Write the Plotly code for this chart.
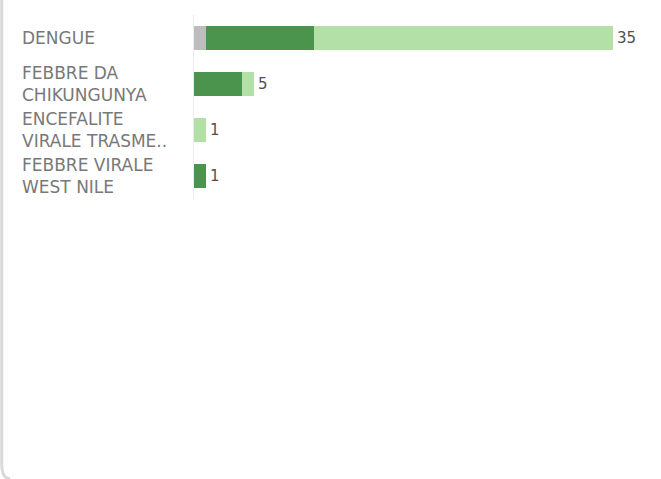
import plotly.graph_objects as go

categories = ["DENGUE", "FEBBRE DA CHIKUNGUNYA", "ENCEFALITE VIRALE TRASMESSA DA ZECCHE", "FEBBRE VIRALE WEST NILE"]
category_labels = ["DENGUE", "FEBBRE DA<br>CHIKUNGUNYA", "ENCEFALITE<br>VIRALE TRASME..", "FEBBRE VIRALE<br>WEST NILE"]
series_names = ["Non noto", "Importati", "Autoctoni"]
values_unknown = [1, 0, 0, 0]
values_dark = [9, 4, 0, 1]
values_light = [25, 1, 1, 0]
totals = [a + b + c for a, b, c in zip(values_unknown, values_dark, values_light)]

colors = ["#bdbdbd", "#4a944e", "#b3e0a6"]

fig = go.Figure()
for name, vals, col in zip(series_names, [values_unknown, values_dark, values_light], colors):
    fig.add_trace(go.Bar(
        y=categories, x=vals, name=name, orientation="h",
        marker=dict(color=col, line=dict(width=0)),
        hoverinfo="x+name",
    ))

annotations = []
for cat, lab in zip(categories, category_labels):
    annotations.append(dict(
        x=-0.393, xref="paper", y=cat, yref="y", text=lab, showarrow=False,
        xanchor="left", yanchor="middle", align="left",
        font=dict(family="DejaVu Sans", size=17, color="#787878"),
    ))
for cat, t in zip(categories, totals):
    annotations.append(dict(
        x=t, xref="x", y=cat, yref="y", text=str(t), showarrow=False,
        xanchor="left", yanchor="middle", xshift=2,
        font=dict(family="DejaVu Sans", size=15, color="#505050"),
    ))

fig.update_layout(
    width=661, height=479,
    margin=dict(l=194, r=24, t=15, b=280),
    barmode="stack", bargap=0.48,
    showlegend=False,
    plot_bgcolor="white", paper_bgcolor="white",
    annotations=annotations,
    xaxis=dict(range=[0, 37], visible=False, fixedrange=True),
    yaxis=dict(autorange="reversed", showticklabels=False, ticks="",
               showline=True, linecolor="#ececec", linewidth=1,
               showgrid=False, zeroline=False, fixedrange=True),
    shapes=[
        dict(type="path", xref="paper", yref="paper",
             path="M -0.434,1.2 L -0.434,-1.44 Q -0.434,-1.52 -0.415,-1.52",
             line=dict(color="#d9d9d9", width=3)),
    ],
)

fig.write_html("out.html", config={"displayModeBar": False},
               post_script="document.body.style.margin='0px';")
